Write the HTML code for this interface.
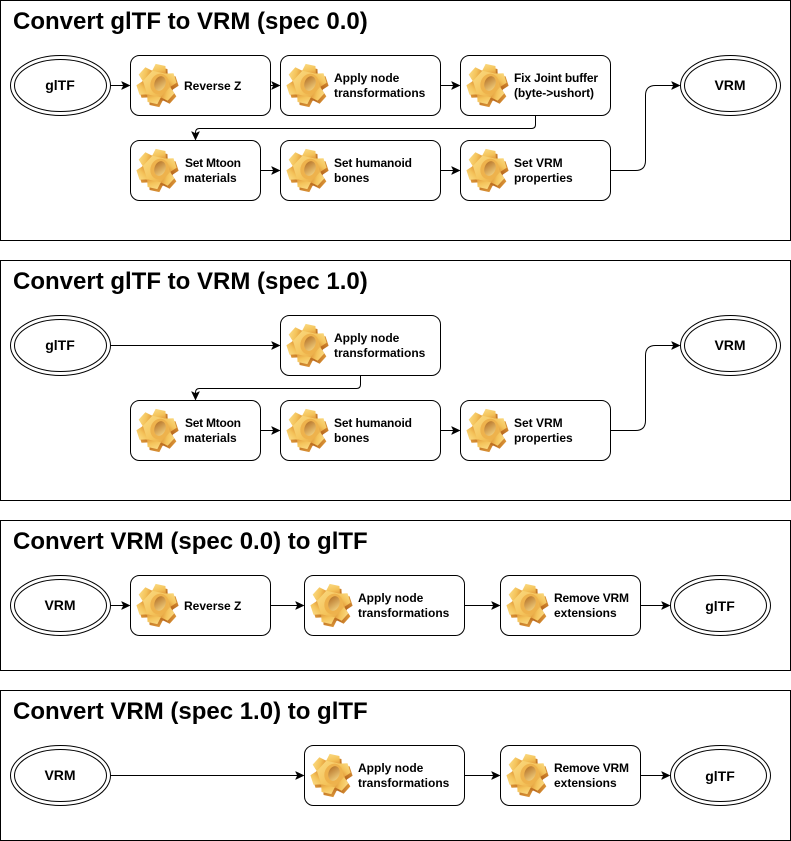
<!DOCTYPE html>
<html><head><meta charset="utf-8">
<style>
html,body{margin:0;padding:0;background:#fff}
svg{display:block}
text{font-family:"Liberation Sans",sans-serif;font-weight:bold;fill:#000}
.t{font-size:24px}
.n{font-size:12px}
.e{font-size:14px;text-anchor:middle}
.f,.b,.o,.c{stroke:#000;stroke-width:1}
.f{fill:#fff}.b{fill:#fff}.o{fill:#fff}
.c{fill:none}
.a{fill:#000;stroke:#000;stroke-width:0.5}
</style></head>
<body>
<svg xmlns="http://www.w3.org/2000/svg" width="791" height="841" viewBox="0 0 791 841">
<defs>
<linearGradient id="gt" x1="0" y1="0" x2="1" y2="1"><stop offset="0" stop-color="#fbdc85"/><stop offset="0.6" stop-color="#f4c35a"/><stop offset="1" stop-color="#e39c3c"/></linearGradient>
<linearGradient id="gs" x1="0" y1="0" x2="1" y2="1"><stop offset="0" stop-color="#e09a3a"/><stop offset="1" stop-color="#b5651c"/></linearGradient>
<linearGradient id="gh" x1="0" y1="0" x2="1" y2="1"><stop offset="0" stop-color="#b06a20"/><stop offset="1" stop-color="#f8da88"/></linearGradient>
<g id="teeth">
<circle r="14.5"/>
<path d="M-7,-12 L-5,-19.5 L5,-19.5 L7,-12z" transform="rotate(12)"/>
<path d="M-7,-12 L-5,-19.5 L5,-19.5 L7,-12z" transform="rotate(72)"/>
<path d="M-7,-12 L-5,-19.5 L5,-19.5 L7,-12z" transform="rotate(132)"/>
<path d="M-7,-12 L-5,-19.5 L5,-19.5 L7,-12z" transform="rotate(192)"/>
<path d="M-7,-12 L-5,-19.5 L5,-19.5 L7,-12z" transform="rotate(252)"/>
<path d="M-7,-12 L-5,-19.5 L5,-19.5 L7,-12z" transform="rotate(312)"/>
</g>
<g id="gear">
<use href="#teeth" x="0.5" y="2" fill="url(#gs)"/>
<use href="#teeth" x="-1.5" y="-1" fill="url(#gt)"/>
<ellipse cx="1.5" cy="-1" rx="9" ry="10.5" transform="rotate(20 1.5 -1)" fill="#eeb24c"/>
<ellipse cx="2" cy="-1.5" rx="5.5" ry="7.5" transform="rotate(20 2 -1.5)" fill="url(#gh)"/>
</g>
<path id="ah" d="M0,0 l-8.5,-4 l2,4 l-2,4z"/>
<path id="ad" d="M0,0 l-4,-8.5 l4,2 l4,-2z"/>
</defs>

<!-- Frames -->
<rect class="f" x="0.5" y="0.5" width="790" height="240"/>
<rect class="f" x="0.5" y="260.5" width="790" height="240"/>
<rect class="f" x="0.5" y="520.5" width="790" height="150"/>
<rect class="f" x="0.5" y="690.5" width="790" height="150"/>
<text class="t" x="13" y="29">Convert glTF to VRM (spec 0.0)</text>
<text class="t" x="13" y="289">Convert glTF to VRM (spec 1.0)</text>
<text class="t" x="13" y="549">Convert VRM (spec 0.0) to glTF</text>
<text class="t" x="13" y="719">Convert VRM (spec 1.0) to glTF</text>

<!-- Connectors -->
<path class="c" d="M110.5 85.5H124M270.5 85.5H274M440.5 85.5H454M260.5 170.5H274M440.5 170.5H454"/>
<path class="c" d="M535.5 115.5V124.5Q535.5 128.5 531.5 128.5H199.5Q195.5 128.5 195.5 132.5V134"/>
<path class="c" d="M610.5 170.5H635.5Q645.5 170.5 645.5 160.5V95.5Q645.5 85.5 655.5 85.5H674"/>
<path class="c" d="M110.5 345.5H274"/>
<path class="c" d="M360.5 375.5V384.5Q360.5 388.5 356.5 388.5H199.5Q195.5 388.5 195.5 392.5V394"/>
<path class="c" d="M260.5 430.5H274M440.5 430.5H454"/>
<path class="c" d="M610.5 430.5H635.5Q645.5 430.5 645.5 420.5V355.5Q645.5 345.5 655.5 345.5H674"/>
<path class="c" d="M110.5 605.5H124M270.5 605.5H298M464.5 605.5H494M640.5 605.5H664"/>
<path class="c" d="M110.5 775.5H298M464.5 775.5H494M640.5 775.5H664"/>
<g class="a">
<use href="#ah" x="130" y="85.5"/><use href="#ah" x="280" y="85.5"/><use href="#ah" x="460" y="85.5"/>
<use href="#ah" x="280" y="170.5"/><use href="#ah" x="460" y="170.5"/><use href="#ah" x="680" y="85.5"/>
<use href="#ad" x="195.5" y="140"/>
<use href="#ah" x="280" y="345.5"/><use href="#ah" x="680" y="345.5"/>
<use href="#ah" x="280" y="430.5"/><use href="#ah" x="460" y="430.5"/>
<use href="#ad" x="195.5" y="400"/>
<use href="#ah" x="130" y="605.5"/><use href="#ah" x="304" y="605.5"/><use href="#ah" x="500" y="605.5"/><use href="#ah" x="670" y="605.5"/>
<use href="#ah" x="304" y="775.5"/><use href="#ah" x="500" y="775.5"/><use href="#ah" x="670" y="775.5"/>
</g>

<!-- Ellipses -->
<g>
<ellipse class="o" cx="60.5" cy="85.5" rx="50" ry="30"/><ellipse class="o" cx="60.5" cy="85.5" rx="46" ry="26"/>
<ellipse class="o" cx="730.5" cy="85.5" rx="50" ry="30"/><ellipse class="o" cx="730.5" cy="85.5" rx="46" ry="26"/>
<ellipse class="o" cx="60.5" cy="345.5" rx="50" ry="30"/><ellipse class="o" cx="60.5" cy="345.5" rx="46" ry="26"/>
<ellipse class="o" cx="730.5" cy="345.5" rx="50" ry="30"/><ellipse class="o" cx="730.5" cy="345.5" rx="46" ry="26"/>
<ellipse class="o" cx="60.5" cy="605.5" rx="50" ry="30"/><ellipse class="o" cx="60.5" cy="605.5" rx="46" ry="26"/>
<ellipse class="o" cx="720.5" cy="605.5" rx="50" ry="30"/><ellipse class="o" cx="720.5" cy="605.5" rx="46" ry="26"/>
<ellipse class="o" cx="60.5" cy="775.5" rx="50" ry="30"/><ellipse class="o" cx="60.5" cy="775.5" rx="46" ry="26"/>
<ellipse class="o" cx="720.5" cy="775.5" rx="50" ry="30"/><ellipse class="o" cx="720.5" cy="775.5" rx="46" ry="26"/>
</g>
<text class="e" x="60" y="90">glTF</text>
<text class="e" x="730" y="90">VRM</text>
<text class="e" x="60" y="350">glTF</text>
<text class="e" x="730" y="350">VRM</text>
<text class="e" x="60" y="610">VRM</text>
<text class="e" x="720" y="611">glTF</text>
<text class="e" x="60" y="780">VRM</text>
<text class="e" x="720" y="781">glTF</text>

<!-- Boxes -->
<g>
<rect class="b" x="130.5" y="55.5" width="140" height="60" rx="9"/>
<rect class="b" x="280.5" y="55.5" width="160" height="60" rx="9"/>
<rect class="b" x="460.5" y="55.5" width="150" height="60" rx="9"/>
<rect class="b" x="130.5" y="140.5" width="130" height="60" rx="9"/>
<rect class="b" x="280.5" y="140.5" width="160" height="60" rx="9"/>
<rect class="b" x="460.5" y="140.5" width="150" height="60" rx="9"/>
<rect class="b" x="280.5" y="315.5" width="160" height="60" rx="9"/>
<rect class="b" x="130.5" y="400.5" width="130" height="60" rx="9"/>
<rect class="b" x="280.5" y="400.5" width="160" height="60" rx="9"/>
<rect class="b" x="460.5" y="400.5" width="150" height="60" rx="9"/>
<rect class="b" x="130.5" y="575.5" width="140" height="60" rx="9"/>
<rect class="b" x="304.5" y="575.5" width="160" height="60" rx="9"/>
<rect class="b" x="500.5" y="575.5" width="140" height="60" rx="9"/>
<rect class="b" x="304.5" y="745.5" width="160" height="60" rx="9"/>
<rect class="b" x="500.5" y="745.5" width="140" height="60" rx="9"/>
</g>

<!-- Gears -->
<use href="#gear" x="158" y="85"/><use href="#gear" x="308" y="85"/><use href="#gear" x="488" y="85"/>
<use href="#gear" x="158" y="170"/><use href="#gear" x="308" y="170"/><use href="#gear" x="488" y="170"/>
<use href="#gear" x="308" y="345"/>
<use href="#gear" x="158" y="430"/><use href="#gear" x="308" y="430"/><use href="#gear" x="488" y="430"/>
<use href="#gear" x="158" y="605"/><use href="#gear" x="332" y="605"/><use href="#gear" x="528" y="605"/>
<use href="#gear" x="332" y="775"/><use href="#gear" x="528" y="775"/>

<!-- Labels -->
<text class="n" x="184" y="90">Reverse Z</text>
<text class="n" x="334" y="82">Apply node</text><text class="n" x="334" y="97">transformations</text>
<text class="n" x="514" y="82" textLength="84">Fix Joint buffer</text><text class="n" x="514" y="97" textLength="80">(byte-&gt;ushort)</text>
<text class="n" x="185" y="167" textLength="56">Set Mtoon</text><text class="n" x="184" y="182">materials</text>
<text class="n" x="334" y="167" textLength="78">Set humanoid</text><text class="n" x="334" y="182">bones</text>
<text class="n" x="514" y="167">Set VRM</text><text class="n" x="514" y="182">properties</text>
<text class="n" x="334" y="342">Apply node</text><text class="n" x="334" y="357">transformations</text>
<text class="n" x="185" y="427" textLength="56">Set Mtoon</text><text class="n" x="184" y="442">materials</text>
<text class="n" x="334" y="427" textLength="78">Set humanoid</text><text class="n" x="334" y="442">bones</text>
<text class="n" x="514" y="427">Set VRM</text><text class="n" x="514" y="442">properties</text>
<text class="n" x="184" y="610">Reverse Z</text>
<text class="n" x="358" y="602">Apply node</text><text class="n" x="358" y="617">transformations</text>
<text class="n" x="554" y="602" textLength="75">Remove VRM</text><text class="n" x="554" y="617">extensions</text>
<text class="n" x="358" y="772">Apply node</text><text class="n" x="358" y="787">transformations</text>
<text class="n" x="554" y="772" textLength="75">Remove VRM</text><text class="n" x="554" y="787">extensions</text>
</svg>
</body></html>
